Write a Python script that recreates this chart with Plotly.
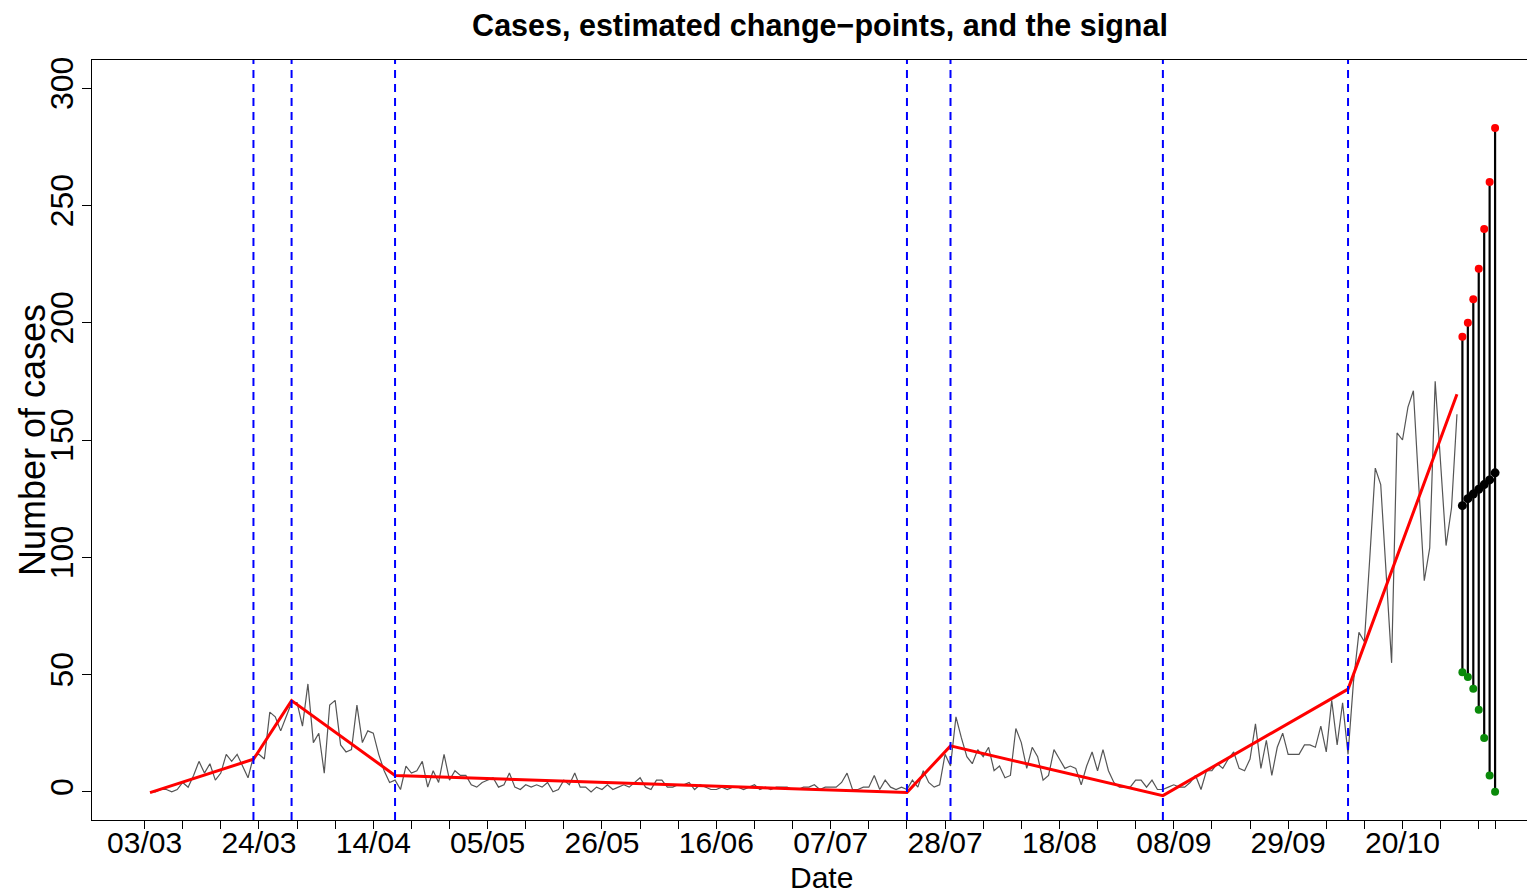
import pandas as pd
import plotly.graph_objects as go

# daily cases, starting 04/03
start_date = "2020-03-04"
cases = [
    0, 0, 1, 1, 0, 1, 4, 2, 7, 13, 8, 12, 5, 8, 16, 13, 16, 11, 6, 15, 16, 14,
    34, 32, 26, 32, 38, 38, 28, 46, 21, 25, 8, 37, 39, 20, 17, 18, 37, 21, 26, 25,
    16, 9, 4, 5, 1, 11, 8, 9,
    13, 2, 9, 4, 16, 5, 9, 7, 7, 3,
    2, 4, 5, 6, 2, 3, 8, 2, 1, 3,
    2, 3, 2, 4, 0, 1, 5, 3, 8, 2,
    2, 0, 2, 1, 3, 1, 2, 3, 2, 4,
    6, 2, 1, 5, 5, 2, 2, 3,
    3, 4, 1, 3, 2, 1, 1, 2, 1, 2,
    2, 1, 2, 3, 1, 2, 1, 2, 2, 2,
    1, 1, 2, 2, 3, 1, 2, 2, 2, 4,
    8, 1, 1, 2, 2, 7, 1, 5, 2, 1,
    2, 1,
    5, 2, 9, 4, 2, 3, 16, 11, 32, 23,
    15, 12, 18, 15, 19, 9, 11, 6, 7, 27,
    21, 10, 19, 15, 5, 7, 18, 14, 10, 11,
    10, 3, 11, 17, 9, 18, 9, 4, 2, 2,
    2, 5, 5, 2, 5, 1, 1, 2, 3,
    2, 2, 4, 7, 1, 9, 9, 12, 10, 14,
    17, 10, 9, 14, 29, 10, 22, 7, 19, 25,
    16, 16, 16, 20, 20, 19, 28, 17, 39, 20,
    38, 16,
    47, 68, 64, 100, 138, 131, 93, 55, 153, 150,
    164, 171, 130, 90, 104, 175, 140, 105, 121, 161,
]

changepoint_dates = ["2020-03-23", "2020-03-30", "2020-04-18", "2020-07-21",
                     "2020-07-29", "2020-09-06", "2020-10-10"]
fit_dates = ["2020-03-04", *changepoint_dates, "2020-10-30"]
fit_values = [-0.3, 13.9, 38.9, 7.0, -0.3, 19.6, -1.6, 43.8, 169.5]

forecast_start = "2020-10-31"
forecast_mid = [122, 125, 127, 129, 131, 133, 136]
forecast_upper = [194, 200, 210, 223, 240, 260, 283]
forecast_lower = [51, 49, 44, 35, 23, 7, 0]

tick_labels = ["03/03", "24/03", "14/04", "05/05", "26/05", "16/06",
               "07/07", "28/07", "18/08", "08/09", "29/09", "20/10"]

FONT = "Liberation Sans, Arial, sans-serif"

dates = pd.date_range(start_date, periods=len(cases))
fc_dates = pd.date_range(forecast_start, periods=len(forecast_mid))

# weekly ticks, labels every third week, plus the last forecast day
tick_dates = list(pd.date_range("2020-03-03", "2020-11-03", freq="7D"))
tick_text = [tick_labels[i // 3] if i % 3 == 0 else "" for i in range(len(tick_dates))]
tick_dates.append(fc_dates[-1])
tick_text.append("")

fig = go.Figure()
fig.add_trace(go.Scatter(
    x=dates, y=cases, mode="lines",
    line={"color": "#555555", "width": 1.2},
))
fig.add_trace(go.Scatter(
    x=pd.to_datetime(fit_dates), y=fit_values, mode="lines",
    line={"color": "#ff0000", "width": 3},
))
fig.add_trace(go.Scatter(
    x=fc_dates, y=forecast_mid, mode="markers",
    marker={"color": "black", "size": 9},
    error_y={
        "type": "data", "symmetric": False,
        "array": [u - m for u, m in zip(forecast_upper, forecast_mid)],
        "arrayminus": [m - lo for m, lo in zip(forecast_mid, forecast_lower)],
        "color": "black", "thickness": 2.2, "width": 0,
    },
))
fig.add_trace(go.Scatter(
    x=fc_dates, y=forecast_upper, mode="markers",
    marker={"color": "#ff0000", "size": 8},
))
fig.add_trace(go.Scatter(
    x=fc_dates, y=forecast_lower, mode="markers",
    marker={"color": "#0a8a0a", "size": 8},
))

for d in changepoint_dates:
    fig.add_vline(x=pd.Timestamp(d), line={"color": "#0000ff", "width": 2, "dash": "8px,6px"})

# the page body adds an 8px margin; the plot runs off the right edge like the original
t0 = pd.Timestamp(start_date)
plot_w = 1535 - 84
fig.update_layout(
    width=1535, height=887,
    margin={"l": 84, "r": 0, "t": 52, "b": 75, "autoexpand": False},
    plot_bgcolor="white", paper_bgcolor="white",
    showlegend=False,
    font={"family": FONT, "color": "black"},
    title={
        "text": "<b>Cases, estimated change\u2212points, and the signal</b>",
        "font": {"size": 30.5, "family": FONT},
        "x": 812 / 1535, "xref": "container", "xanchor": "center",
        "y": 1 - 17 / 887, "yref": "container", "yanchor": "middle",
    },
    xaxis={
        "type": "date", "automargin": False,
        "range": [t0 - pd.Timedelta(days=10.65), t0 + pd.Timedelta(days=255.8)],
        "tickmode": "array", "tickvals": tick_dates, "ticktext": tick_text,
        "ticks": "outside", "ticklen": 8, "tickcolor": "black", "tickwidth": 1,
        "tickfont": {"size": 30}, "ticklabelstandoff": -12,
        "showline": True, "linecolor": "black", "linewidth": 1, "mirror": True,
        "showgrid": False, "zeroline": False,
    },
    yaxis={
        "automargin": False,
        "range": [-12, 312],
        "tickvals": [0, 50, 100, 150, 200, 250, 300],
        "tickangle": -90,
        "ticks": "outside", "ticklen": 9, "tickcolor": "black", "tickwidth": 1,
        "tickfont": {"size": 32}, "ticklabelstandoff": -4,
        "showline": True, "linecolor": "black", "linewidth": 1,
        "showgrid": False, "zeroline": False,
    },
    annotations=[
        {"text": "Date", "x": (813 - 84) / plot_w, "y": -(870 - 812) / 760,
         "xref": "paper", "yref": "paper", "showarrow": False,
         "xanchor": "center", "yanchor": "middle", "font": {"size": 30}},
        {"text": "Number of cases", "x": (24 - 84) / plot_w, "y": 0.5,
         "xref": "paper", "yref": "paper", "showarrow": False, "textangle": -90,
         "xanchor": "center", "yanchor": "middle", "font": {"size": 36}},
    ],
)

fig.write_html("out.html")
